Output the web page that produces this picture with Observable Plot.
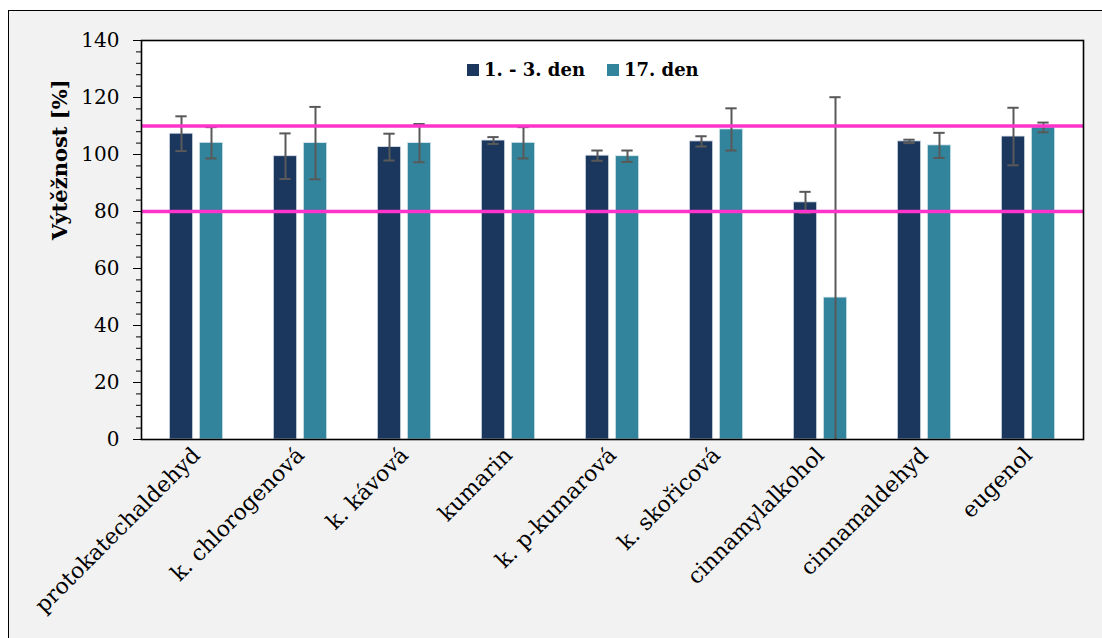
<!DOCTYPE html>
<html>
<head>
<meta charset="utf-8">
<script src="https://cdn.jsdelivr.net/npm/d3@7"></script>
<script src="https://cdn.jsdelivr.net/npm/@observablehq/plot@0.6"></script>
<style>
  html, body { margin: 0; padding: 0; background: #ffffff; }
  body { position: relative; width: 1102px; height: 638px; overflow: hidden; font-family: "DejaVu Serif", "Liberation Serif", serif; }
  #bg { position: absolute; left: 8px; top: 10px; width: 1110px; height: 640px; border: 1px solid #000; background: #f2f2f2; box-sizing: border-box; }
  #chart { position: absolute; left: 0; top: 0; }
  #legend { position: absolute; left: 467px; top: 59px; display: flex; align-items: center; font-weight: bold; font-size: 18px; color: #000; white-space: nowrap; }
  #legend .sw { display: inline-block; width: 12px; height: 12px; margin-right: 5px; }
  #legend .item { display: flex; align-items: center; margin-right: 22px; }
</style>
</head>
<body>
<div id="bg"></div>
<div id="chart"></div>
<div id="legend"></div>
<script>
const categories = ["protokatechaldehyd", "k. chlorogenová", "k. kávová", "kumarin", "k. p-kumarová", "k. skořicová", "cinnamylalkohol", "cinnamaldehyd", "eugenol"];
const seriesNames = ["1. - 3. den", "17. den"];
const day1 = [107.3, 99.4, 102.6, 104.9, 99.6, 104.6, 83.2, 104.6, 106.3];
const day1Err = [6.1, 8.0, 4.7, 1.2, 1.8, 1.8, 3.7, 0.6, 10.1];
const day17 = [104.1, 104.0, 104.0, 104.1, 99.4, 108.8, 49.8, 103.2, 109.5];
const day17Err = [5.5, 12.7, 6.7, 5.5, 2.0, 7.4, 70.3, 4.4, 1.7];
const limits = [80, 110];
const yTicks = [0, 20, 40, 60, 80, 100, 120, 140];
const yLabel = "Výtěžnost [%]";
const colors = ["#1b375e", "#31849b"];

const rows = [];
categories.forEach((c, i) => {
  rows.push({cat: c, series: seriesNames[0], value: day1[i], err: day1Err[i]});
  rows.push({cat: c, series: seriesNames[1], value: day17[i], err: day17Err[i]});
});
const s0 = rows.filter(d => d.series === seriesNames[0]);
const s1 = rows.filter(d => d.series === seriesNames[1]);

const font = "DejaVu Serif";
const bandW = (1102 - 141 - 19) / categories.length;
const barInset = (bandW - 24) / 2;
const capInset = (bandW - 12) / 2;

function errMarks(data, dx) {
  return [
    Plot.ruleX(data, {x: "cat", y1: d => Math.max(0, d.value - d.err), y2: d => d.value + d.err, dx, stroke: "#595959", strokeWidth: 2}),
    Plot.tickY(data, {x: "cat", y: d => d.value + d.err, dx, insetLeft: capInset, insetRight: capInset, stroke: "#595959", strokeWidth: 2}),
    Plot.tickY(data.filter(d => d.value - d.err > 0), {x: "cat", y: d => d.value - d.err, dx, insetLeft: capInset, insetRight: capInset, stroke: "#595959", strokeWidth: 2})
  ];
}

const chart = Plot.plot({
  width: 1102,
  height: 638,
  marginLeft: 141,
  marginRight: 19,
  marginTop: 40,
  marginBottom: 199,
  style: {background: "transparent", fontFamily: font, color: "#000"},
  x: {domain: categories, padding: 0, label: null},
  y: {domain: [0, 140], label: null},
  marks: [
    Plot.frame({fill: "white", stroke: "none"}),
    Plot.barY(s0, {x: "cat", y: "value", dx: -15, insetLeft: barInset, insetRight: barInset, fill: colors[0], stroke: "#dbe3ec", strokeWidth: 0.8}),
    Plot.barY(s1, {x: "cat", y: "value", dx: 15, insetLeft: barInset, insetRight: barInset, fill: colors[1], stroke: "#dbe8ee", strokeWidth: 0.8}),
    ...errMarks(s0, -15),
    ...errMarks(s1, 15),
    Plot.ruleY(limits, {stroke: "#ff33cc", strokeWidth: 3.5}),
    Plot.frame({stroke: "#000", strokeWidth: 1.6}),
    Plot.axisY({ticks: d3.range(0, 141, 4), tickSize: 5, text: null, label: null, stroke: "#000"}),
    Plot.axisY({ticks: yTicks, tickSize: 8, tickPadding: 14, fontSize: 20, label: null, stroke: "#000", fill: "#000"}),
    Plot.axisX({tickSize: 0, tickRotate: -45, tickPadding: 12, fontSize: 22, label: null, fill: "#000"}),
    Plot.text([yLabel], {frameAnchor: "left", dx: -81, rotate: -90, fontWeight: "bold", fontSize: 21, fill: "#000"})
  ]
});
document.getElementById("chart").appendChild(chart);

const legend = document.getElementById("legend");
seriesNames.forEach((s, i) => {
  const item = document.createElement("span");
  item.className = "item";
  const sw = document.createElement("span");
  sw.className = "sw";
  sw.style.background = colors[i];
  item.appendChild(sw);
  item.appendChild(document.createTextNode(s));
  legend.appendChild(item);
});
</script>
</body>
</html>
